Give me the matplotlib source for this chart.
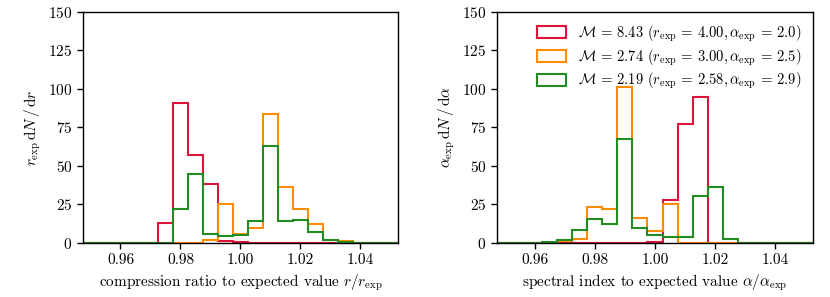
import numpy as np
import matplotlib
matplotlib.use("Agg")
import matplotlib.pyplot as plt
from matplotlib.patches import Patch

plt.rcParams['font.family'] = ['cmr10', 'DejaVu Serif']
plt.rcParams['mathtext.fontset'] = 'cm'
plt.rcParams['axes.formatter.use_mathtext'] = True
plt.rcParams['font.size'] = 11

# bin centres (ratio to expected value), 21 bins of width 0.005
bin_centers = [0.950, 0.955, 0.960, 0.965, 0.970, 0.975, 0.980, 0.985, 0.990, 0.995,
               1.000, 1.005, 1.010, 1.015, 1.020, 1.025, 1.030, 1.035, 1.040, 1.045, 1.050]

labels = [r"$\mathcal{M}$ = 8.43 ($r_\mathrm{exp}$ = 4.00$,\alpha_\mathrm{exp}$ = 2.0)",
          r"$\mathcal{M}$ = 2.74 ($r_\mathrm{exp}$ = 3.00$,\alpha_\mathrm{exp}$ = 2.5)",
          r"$\mathcal{M}$ = 2.19 ($r_\mathrm{exp}$ = 2.58$,\alpha_\mathrm{exp}$ = 2.9)"]
colors = ['#dc143c', '#ff8c00', '#228b22']

# compression ratio histograms
r_m843 = [0, 0, 0, 0, 0, 13, 91, 57, 38, 1, 0.5, 0, 0, 0, 0, 0, 0, 0, 0, 0, 0]
r_m274 = [0, 0, 0, 0, 0, 0, 0, 0, 1.6, 25.5, 6, 9.5, 84, 36.5, 22, 12, 2, 1, 0, 0, 0]
r_m219 = [0, 0, 0, 0, 0, 0, 22, 44.5, 6, 4.5, 5.2, 14.5, 63, 14, 14.7, 7.3, 1.7, 0.9, 0, 0, 0]

# spectral index histograms
a_m843 = [0, 0, 0, 0, 0, 0, 0, 0, 0, 0, 0.5, 28, 77, 95, 0, 0, 0, 0, 0, 0, 0]
a_m274 = [0, 0, 0, 0, 1.3, 2.6, 23.6, 22.3, 101, 16, 7.6, 25.5, 0, 0, 0, 0, 0, 0, 0, 0, 0]
a_m219 = [0, 0, 0, 0.8, 2, 8.4, 15.6, 12.3, 67.3, 9.7, 5, 4.1, 4.1, 30.5, 36.4, 2.4, 0, 0, 0, 0, 0]

yticks = [0, 25, 50, 75, 100, 125, 150]
xticks = [0.96, 0.98, 1.00, 1.02, 1.04]

centers = np.array(bin_centers)
width = centers[1] - centers[0]
edges = np.concatenate([centers - width / 2, [centers[-1] + width / 2]])

fig = plt.figure(figsize=(8.3, 2.97), dpi=100)
ax1 = fig.add_axes([0.100, 0.182, 0.3795, 0.778])
ax2 = fig.add_axes([0.5988, 0.182, 0.3807, 0.778])

for ax, series in [(ax1, [r_m843, r_m274, r_m219]), (ax2, [a_m843, a_m274, a_m219])]:
    for vals, c, lab in zip(series, colors, labels):
        ax.stairs(vals, edges, color=c, lw=1.5, label=lab)
    ax.set_xlim(edges[0], edges[-1])
    ax.set_ylim(0, 150)
    ax.set_yticks(yticks)
    ax.set_xticks(xticks)
    ax.set_xticklabels([f"{t:.2f}" for t in xticks])
    ax.tick_params(direction='out', length=4, width=1, labelsize=11)
    for s in ax.spines.values():
        s.set_linewidth(1.0)

ax1.set_xlabel(r"compression ratio to expected value $r/r_\mathrm{exp}$")
ax1.set_ylabel(r"$r_\mathrm{exp}\,\mathrm{d}N\,/\,\mathrm{d}r$")
ax2.set_xlabel(r"spectral index to expected value $\alpha/\alpha_\mathrm{exp}$")
ax2.set_ylabel(r"$\alpha_\mathrm{exp}\,\mathrm{d}N\,/\,\mathrm{d}\alpha$")

handles = [Patch(facecolor='none', edgecolor=c, lw=1.5) for c in colors]
ax2.legend(handles, labels, loc='upper right', frameon=False, fontsize=10.5,
           handlelength=2.0, handleheight=0.9, labelspacing=0.22,
           borderaxespad=0.4)

fig.savefig("out.png", dpi=100)
